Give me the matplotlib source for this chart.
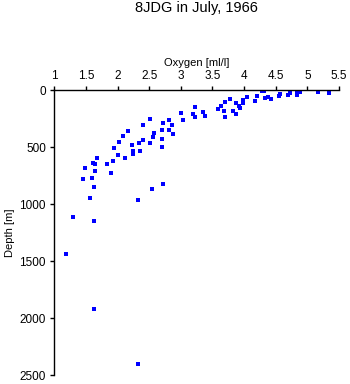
import numpy as np
from matplotlib import pyplot as plt

plt.rcParams['font.family'] = ['Liberation Sans', 'DejaVu Sans']

# oxygen [ml/l] and depth [m]
oxygen = [4.28, 4.31, 4.83, 4.83, 4.89, 5.17, 5.34, 4.73, 4.69, 4.57,
          4.55, 4.38, 4.33, 4.43, 4.21, 4.17, 4.05, 3.99, 3.99, 3.88,
          3.92, 3.94, 3.77, 3.70, 3.64, 3.58, 3.82, 3.68, 3.87, 3.70,
          3.35, 3.39,
          3.22, 3.00, 3.19, 3.23, 3.03, 2.52, 2.82, 2.72, 2.41, 2.86,
          2.16, 2.71, 2.81, 2.58, 2.88, 2.08, 2.56, 2.71, 2.41, 2.03,
          2.34, 2.52, 2.23, 2.71, 1.94, 2.25, 2.36, 2.25, 2.01, 2.12,
          1.68, 1.93, 1.61, 1.65, 1.84, 1.48, 1.64, 1.90, 1.59, 1.46,
          2.72, 1.63, 2.55, 1.57, 2.33, 1.30, 1.63, 1.19, 1.63, 2.33]
depth = [5, 12, 15, 44, 15, 20, 29, 26, 44, 38,
         55, 64, 73, 82, 50, 96, 64, 88, 117, 111,
         140, 161, 82, 103, 138, 167, 187, 187, 213, 239,
         193, 225,
         152, 204, 213, 239, 266, 252, 263, 287, 304, 310,
         357, 354, 351, 380, 389, 406, 410, 430, 436, 459,
         462, 468, 485, 500, 509, 535, 538, 564, 573, 596,
         596, 625, 643, 652, 652, 687, 713, 731, 775, 783,
         827, 854, 871, 950, 968, 1111, 1152, 1441, 1921, 2404]

x_ticks = [1, 1.5, 2, 2.5, 3, 3.5, 4, 4.5, 5, 5.5]
x_labels = ['1', '1.5', '2', '2.5', '3', '3.5', '4', '4.5', '5', '5.5']
y_ticks = [0, 500, 1000, 1500, 2000, 2500]

fig = plt.figure(figsize=(3.5, 3.84), dpi=100)
ax = fig.add_axes([0.155, 0.0234, 0.8136, 0.7422])

ax.plot(oxygen, depth, 's', color='#0000ff', markersize=2.2, markeredgewidth=0)

ax.set_xlim(1, 5.5)
ax.set_ylim(2500, 0)
ax.set_xticks(x_ticks)
ax.set_xticklabels(x_labels)
ax.set_yticks(y_ticks)

ax.spines['right'].set_visible(False)
ax.spines['bottom'].set_visible(False)
for s in ['top', 'left']:
    ax.spines[s].set_linewidth(1.0)

ax.xaxis.tick_top()
ax.xaxis.set_label_position('top')
ax.tick_params(axis='both', direction='out', length=3, width=1,
               labelsize=8.5, pad=3)
ax.set_xlabel('Oxygen [ml/l]', fontsize=8, labelpad=3)
ax.set_ylabel('Depth [m]', fontsize=8, labelpad=3)

fig.text(0.562, 0.979, '8JDG in July, 1966', ha='center', va='center', fontsize=10.5)

plt.savefig('out.png', dpi=100)
